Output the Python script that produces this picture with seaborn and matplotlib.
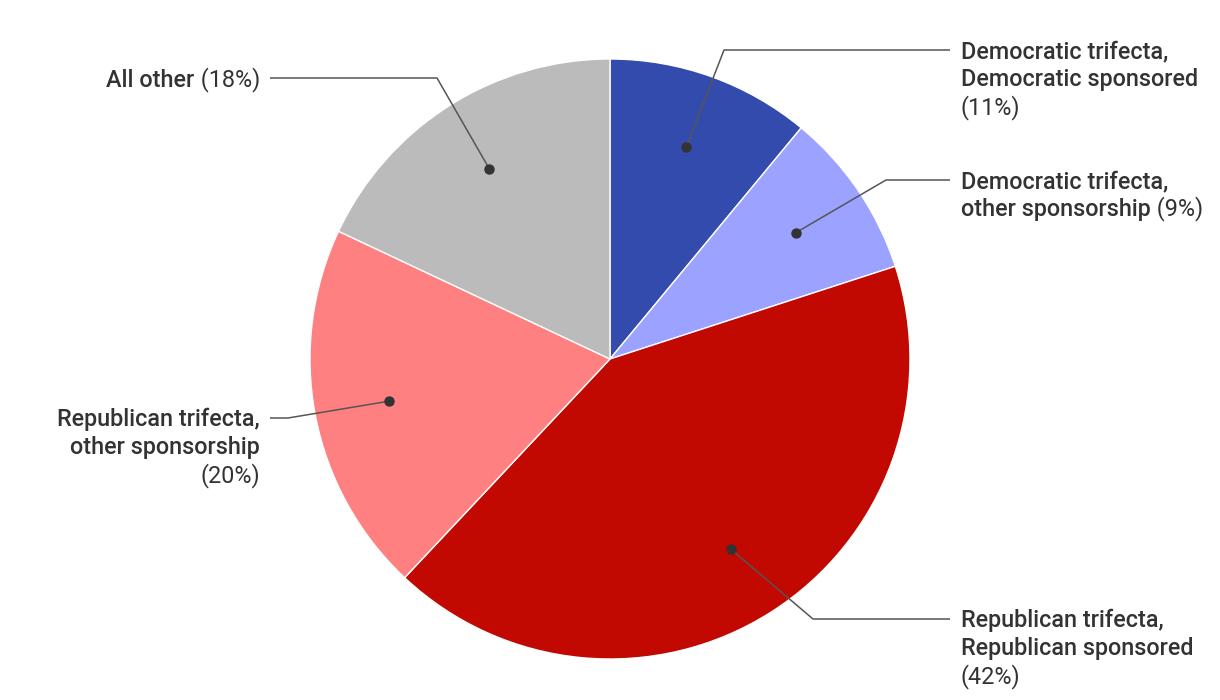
import numpy as np
import matplotlib
matplotlib.use("Agg")
import matplotlib.pyplot as plt
import seaborn as sns

# slices, clockwise from 12 o'clock
categories = [
    "Democratic trifecta,\nDemocratic sponsored",
    "Democratic trifecta,\nother sponsorship",
    "Republican trifecta,\nRepublican sponsored",
    "Republican trifecta,\nother sponsorship",
    "All other",
]
shares = [11, 9, 42, 20, 18]
colors = ["#334BAC", "#9CA2FF", "#C10801", "#FF8080", "#BBBBBB"]

# label layout in pixels: elbow x, elbow y, line end x, text x, align, percent on own line
label_layout = [
    (724, 50, 950, 961, "left", True),
    (886, 180, 950, 961, "left", False),
    (813, 619, 950, 961, "left", True),
    (288, 418, 270, 260, "right", True),
    (437, 78, 270, 260, "right", False),
]

sns.set_theme(style="white")
plt.rcParams["font.family"] = ["Roboto", "DejaVu Sans"]

TEXT_COLOR = "#333333"
LINE_COLOR = "#555555"
FS = 16.8
LINE_H = 28
CENTER = (610, 359)
RADIUS = 300

fig = plt.figure(figsize=(12.2, 7), dpi=100)
ax = fig.add_axes([0, 0, 1, 1])
ax.set_xlim(0, 1220)
ax.set_ylim(700, 0)
ax.set_aspect("equal")
ax.axis("off")

# y axis is flipped, so counterclock in data = clockwise on screen
wedges, _ = ax.pie(shares, colors=colors, startangle=-90, counterclock=True,
                   center=CENTER, radius=RADIUS,
                   wedgeprops=dict(edgecolor="white", linewidth=1))
ax.set_xlim(0, 1220)
ax.set_ylim(700, 0)

fig.canvas.draw()

for w, name, val, lay in zip(wedges, categories, shares, label_layout):
    ex, ey, lx, tx, align, pct_own = lay
    mid = np.deg2rad((w.theta1 + w.theta2) / 2)
    dx = w.center[0] + 0.75 * w.r * np.cos(mid)
    dy = w.center[1] + 0.75 * w.r * np.sin(mid)
    ax.plot([dx, ex, lx], [dy, ey, ey], color=LINE_COLOR, lw=1.1, solid_capstyle="butt")
    ax.plot(dx, dy, "o", color="#333333", ms=6.5)

    lines = name.split("\n")
    pct = f"({val}%)"
    base = ey + 8
    n = len(lines)
    for i, ln in enumerate(lines):
        y = base + i * LINE_H
        last = i == n - 1
        if last and not pct_own:
            if align == "left":
                t = ax.text(tx, y, ln, ha="left", va="baseline", fontsize=FS,
                            fontweight="medium", color=TEXT_COLOR)
                ax.annotate(" " + pct, xy=(1, 0), xycoords=t, va="bottom", ha="left",
                            fontsize=FS, color=TEXT_COLOR)
            else:
                t = ax.text(tx, y, " " + pct, ha="right", va="baseline", fontsize=FS,
                            color=TEXT_COLOR)
                ax.annotate(ln, xy=(0, 0), xycoords=t, va="bottom", ha="right",
                            fontsize=FS, fontweight="medium", color=TEXT_COLOR)
        else:
            ax.text(tx, y, ln, ha=align, va="baseline", fontsize=FS,
                    fontweight="medium", color=TEXT_COLOR)
    if pct_own:
        ax.text(tx, base + n * LINE_H, pct, ha=align, va="baseline", fontsize=FS,
                color=TEXT_COLOR)

fig.savefig("out.png", dpi=100, facecolor="white")
